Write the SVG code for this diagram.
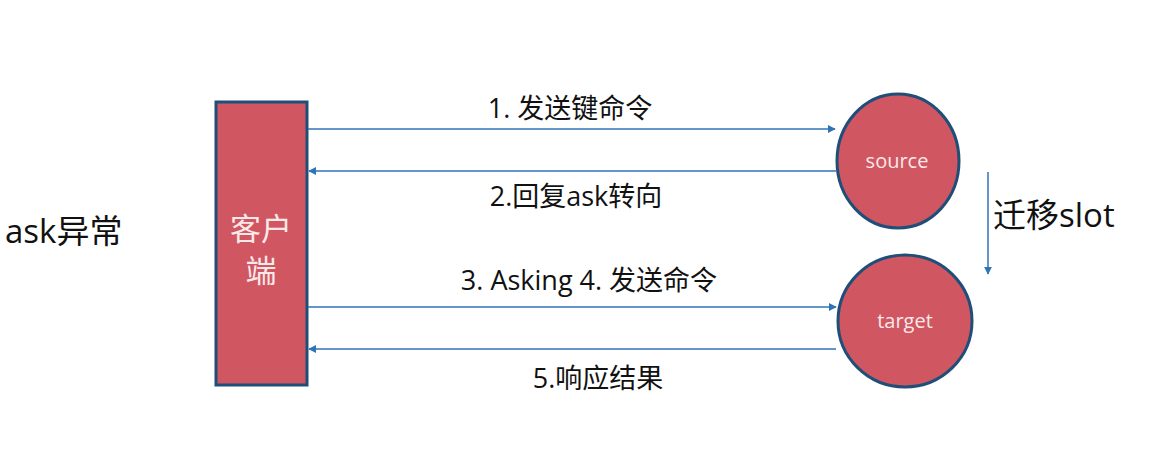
<svg xmlns="http://www.w3.org/2000/svg" width="1153" height="450" viewBox="0 0 1153 450">
<defs>
<style>
.node{fill:#d05661;stroke:#1f4e79;stroke-width:3}
.conn{stroke:#2e75b6;stroke-width:1.5;fill:none}
.lbl{font-family:"Open Sans","Noto Sans CJK SC",sans-serif;fill:#111}
.ntx{font-family:"Open Sans","Noto Sans CJK SC",sans-serif;fill:#fbe9ea;text-anchor:middle}
</style>
<marker id="ah" viewBox="0 0 10 10" refX="9" refY="5" markerWidth="8" markerHeight="8" markerUnits="userSpaceOnUse" orient="auto">
<path d="M0,0 L10,5 L0,10 z" fill="#2e75b6"/>
</marker>
</defs>
<rect width="1153" height="450" fill="#fff"/>
<text class="lbl" x="5" y="243" font-size="33">ask异常</text>
<g id="client">
<rect class="node" x="216" y="102" width="91" height="283"/>
<text class="ntx" x="261" y="240" font-size="31">客户</text>
<text class="ntx" x="261" y="282" font-size="31">端</text>
</g>
<g id="source">
<ellipse class="node" cx="898" cy="161" rx="61" ry="67"/>
<text class="ntx" x="897" y="168" font-size="20">source</text>
</g>
<g id="target">
<ellipse class="node" cx="905" cy="321" rx="67" ry="66"/>
<text class="ntx" x="905" y="328" font-size="20">target</text>
</g>
<g id="connectors">
<line class="conn" x1="308" y1="129" x2="835" y2="129" marker-end="url(#ah)"/>
<line class="conn" x1="836" y1="171" x2="309" y2="171" marker-end="url(#ah)"/>
<line class="conn" x1="308" y1="307" x2="836" y2="307" marker-end="url(#ah)"/>
<line class="conn" x1="836" y1="349" x2="309" y2="349" marker-end="url(#ah)"/>
<line class="conn" x1="988" y1="172" x2="988" y2="274" marker-end="url(#ah)"/>
</g>
<g id="labels">
<text class="lbl" x="570" y="118" font-size="27" text-anchor="middle">1. 发送键命令</text>
<text class="lbl" x="576" y="206" font-size="27" text-anchor="middle">2.回复ask转向</text>
<text class="lbl" x="589" y="290" font-size="27" text-anchor="middle">3. Asking 4. 发送命令</text>
<text class="lbl" x="598" y="388" font-size="27" text-anchor="middle">5.响应结果</text>
<text class="lbl" x="993" y="227" font-size="33">迁移slot</text>
</g>
</svg>
